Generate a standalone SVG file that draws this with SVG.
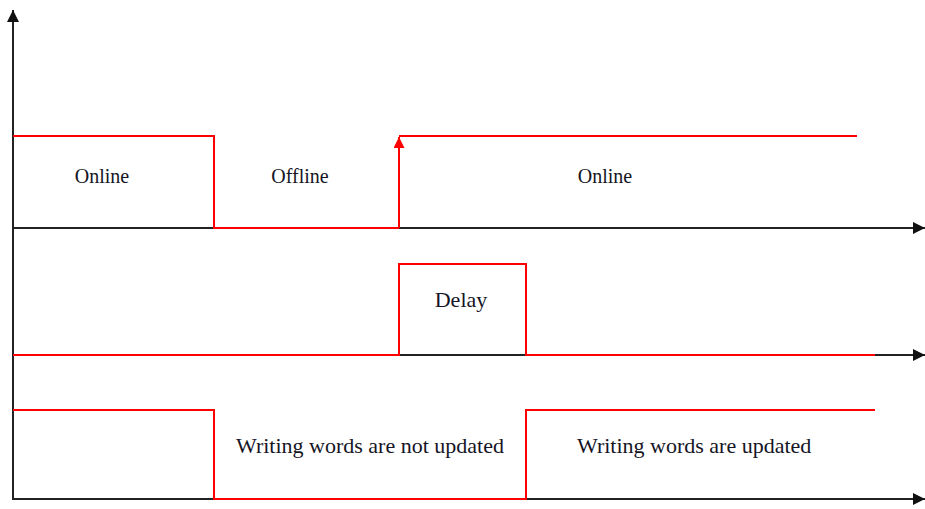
<svg xmlns="http://www.w3.org/2000/svg" width="925" height="509" viewBox="0 0 925 509">
<style>
.axis{stroke:#222;stroke-width:2;fill:none}
.sig{stroke:#ff0000;stroke-width:2;fill:none}
.lbl{font-family:"Liberation Serif","Times New Roman",serif;font-size:20px;fill:#151525}
.big{font-size:22px}
</style>
<defs>
<marker id="ah" viewBox="0 0 10 10" refX="10" refY="5" markerWidth="6" markerHeight="6" orient="auto" markerUnits="strokeWidth">
<path d="M0,0 L10,5 L0,10 Z" fill="#111"/>
</marker>
<marker id="ahr" viewBox="0 0 10 10" refX="10" refY="5" markerWidth="6.5" markerHeight="5.5" orient="auto" markerUnits="strokeWidth">
<path d="M0,0 L10,5 L0,10 Z" fill="#ff0000"/>
</marker>
</defs>
<g id="axes" class="connectors">
<line class="axis" x1="13" y1="500" x2="13" y2="10" marker-end="url(#ah)"/>
<line class="axis" x1="13" y1="228" x2="925" y2="228" marker-end="url(#ah)"/>
<line class="axis" x1="13" y1="355" x2="925" y2="355" marker-end="url(#ah)"/>
<line class="axis" x1="13" y1="499" x2="925" y2="499" marker-end="url(#ah)"/>
</g>
<g id="signal-status">
<path class="sig" d="M13,136 H214 V228 H399"/>
<line class="sig" x1="399" y1="228" x2="399" y2="137" marker-end="url(#ahr)"/>
<path class="sig" d="M399,136 H857"/>
<text class="lbl" x="102" y="183" text-anchor="middle">Online</text>
<text class="lbl" x="300" y="183" text-anchor="middle">Offline</text>
<text class="lbl" x="605" y="183" text-anchor="middle">Online</text>
</g>
<g id="signal-delay">
<path class="sig" d="M13,355 H399 V264 H526 V355 H875"/>
<text class="lbl big" x="461" y="307" text-anchor="middle">Delay</text>
</g>
<g id="signal-writing">
<path class="sig" d="M13,410 H214 V499 H526 V410 H875"/>
<text class="lbl big" x="236" y="453">Writing words are not updated</text>
<text class="lbl big" x="577" y="453">Writing words are updated</text>
</g>
</svg>
